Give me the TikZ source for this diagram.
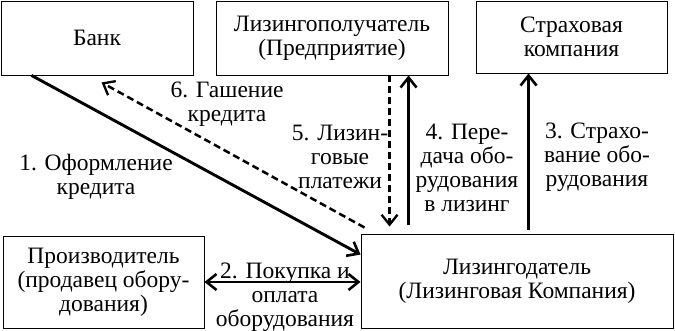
\documentclass[tikz,border=0pt]{standalone}
\usepackage{fontspec}
\setmainfont{Liberation Serif}
\usetikzlibrary{arrows.meta,calc}
\tikzset{
  box/.style={draw, line width=0.9pt, align=center, inner sep=0pt, font=\fontsize{23.5}{24}\selectfont},
  lbl/.style={align=center, inner sep=0pt, font=\fontsize{23.5}{24}\selectfont},
  tip/.tip={Straight Barb[length=10pt,width=16pt,line width=2.6pt]},
  flow/.style={line width=2.9pt, -tip},
  flowd/.style={line width=2.5pt, dash pattern=on 7pt off 4pt, -{Straight Barb[length=10pt,width=16pt,line width=2.3pt]}},
}
\begin{document}
\begin{tikzpicture}[x=1pt,y=-1pt]
\useasboundingbox (0,0) rectangle (675,331);
\node[box, minimum width=192pt, minimum height=74pt] (bank) at (97,38) {Банк};
\node[box, minimum width=232pt, minimum height=74pt] (lessee) at (332,38) {Лизингополучатель\\(Предприятие)};
\node[box, minimum width=191pt, minimum height=72pt] (ins) at (571.5,37) {Страховая\\компания};
\node[box, minimum width=201pt, minimum height=92pt] (manuf) at (103.5,282) {Производитель\\(продавец обору-\\дования)};
\node[box, minimum width=312pt, minimum height=94pt] (lessor) at (517,281) {Лизингодатель\\(Лизинговая Компания)};

\coordinate (b1) at ($(bank.south west)+(31,0)$);
\coordinate (r1) at ($(lessor.north west)+(0,21)$);
\coordinate (r6) at ($(lessor.north west)+(4,-6)$);
\coordinate (b6) at ($(bank.south west)+(101,7)$);
\coordinate (r5) at ($(lessor.north west)+(29,-7)$);
\coordinate (r4) at ($(lessor.north west)+(48,-9)$);
\coordinate (r3) at ($(lessor.north west)+(168,-4)$);

\draw[flow] (b1) -- (r1);
\draw[flowd] (r6) -- (b6);
\draw[flow, tip-tip] (manuf.east) -- (manuf.east -| lessor.west);
\draw[flowd] (lessee.south -| r5) -- (r5);
\draw[flow] (r4) -- (lessee.south -| r4);
\draw[flow] (r3) -- (ins.south -| r3);

\node[lbl] (l6) at (227,104.5) {6. Гашение\\кредита};
\node[lbl] (l1) at (96,177) {1. Оформление\\кредита};
\node[lbl] (l5) at (340,157) {5. Лизин-\\говые\\платежи};
\node[lbl] (l4) at (467,168) {4. Пере-\\дача обо-\\рудования\\в лизинг};
\node[lbl] (l3) at (597,157) {3. Страхо-\\вание обо-\\рудования};
\node[lbl] (l2) at (285,297) {2. Покупка и\\оплата\\оборудования};
\end{tikzpicture}
\end{document}
